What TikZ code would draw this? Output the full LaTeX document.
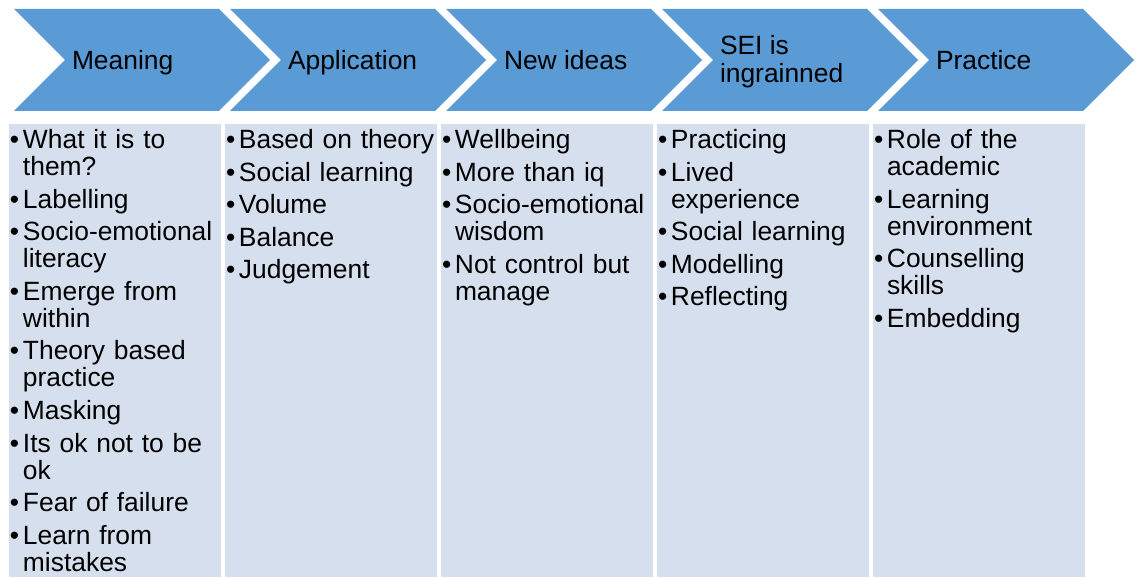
\documentclass[tikz,border=0pt]{standalone}
\usepackage{fontspec}
\setmainfont{Liberation Sans}

\definecolor{stageblue}{HTML}{5B9BD5}
\definecolor{listblue}{HTML}{D5DFEE}

\newcommand{\listitem}[1]{\par\hangindent=6.5pt\hangafter=1\noindent%
  \makebox[6.5pt][l]{\vrule height 10pt depth 0pt width 0pt\textbullet}#1}

\begin{document}
\begin{tikzpicture}[x=0.5pt, y=-0.5pt,
  inner sep=0pt, outer sep=0pt,%
  stage/.style={fill=stageblue},
  list box/.style={fill=listblue},
  stage label/.style={anchor=base west, align=left, font=\fontsize{13.2}{14}\selectfont},
  list text/.style={anchor=north west, text width=110pt, align=left,
    font=\fontsize{13.2}{13.5}\selectfont\setlength{\parskip}{2.8pt}}]

\useasboundingbox (0,0) rectangle (1136,577);

\fill[stage] (14,9)--(219,9)--(270,60)--(219,111)--(14,111)--(65,60)--cycle;
\fill[stage] (230,9)--(435,9)--(486,60)--(435,111)--(230,111)--(281,60)--cycle;
\fill[stage] (446,9)--(651,9)--(702,60)--(651,111)--(446,111)--(497,60)--cycle;
\fill[stage] (662,9)--(867,9)--(918,60)--(867,111)--(662,111)--(713,60)--cycle;
\fill[stage] (878,9)--(1083,9)--(1134,60)--(1083,111)--(878,111)--(929,60)--cycle;

\node[stage label] (meaning) at (72,69.5) {Meaning};
\node[stage label] (application) at (288,69.5) {Application};
\node[stage label] (newideas) at (504,69.5) {New ideas};
\node[stage label, anchor=west] (ingrained) at (720,62) {SEI is\\ingrainned};
\node[stage label] (practice) at (936,69.5) {Practice};

\fill[list box] (9,124) rectangle (221,577);
\fill[list box] (225,124) rectangle (437,577);
\fill[list box] (441,124) rectangle (653,577);
\fill[list box] (657,124) rectangle (869,577);
\fill[list box] (873,124) rectangle (1085,577);

\node[list text] (meaning list) at (10,116) {%
  \listitem{What it is to\newline them?}
  \listitem{Labelling}
  \listitem{Socio-emotional\newline literacy}
  \listitem{Emerge from\newline within}
  \listitem{Theory based\newline practice}
  \listitem{Masking}
  \listitem{Its ok not to be\newline ok}
  \listitem{Fear of failure}
  \listitem{Learn from\newline mistakes}\par};

\node[list text] (application list) at (226,116) {%
  \listitem{Based on theory}
  \listitem{Social learning}
  \listitem{Volume}
  \listitem{Balance}
  \listitem{Judgement}\par};

\node[list text] (newideas list) at (442,116) {%
  \listitem{Wellbeing}
  \listitem{More than iq}
  \listitem{Socio-emotional\newline wisdom}
  \listitem{Not control but\newline manage}\par};

\node[list text] (ingrained list) at (658,116) {%
  \listitem{Practicing}
  \listitem{Lived\newline experience}
  \listitem{Social learning}
  \listitem{Modelling}
  \listitem{Reflecting}\par};

\node[list text] (practice list) at (874,116) {%
  \listitem{Role of the\newline academic}
  \listitem{Learning\newline environment}
  \listitem{Counselling\newline skills}
  \listitem{Embedding}\par};

\end{tikzpicture}
\end{document}
